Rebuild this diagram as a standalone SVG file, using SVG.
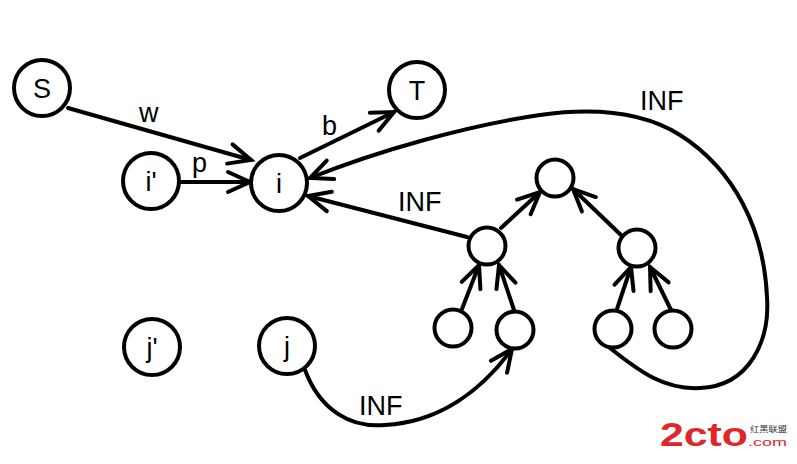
<svg xmlns="http://www.w3.org/2000/svg" width="797" height="464" viewBox="0 0 797 464">
<defs>
<style>
.n{fill:#fff;stroke:#000;stroke-width:4}
.e{fill:none;stroke:#000;stroke-width:4;stroke-linecap:round}
.t{font-family:"Liberation Sans",Arial,sans-serif;font-size:27px;fill:#000;text-anchor:middle}
.l{font-family:"Liberation Sans",Arial,sans-serif;font-size:27px;fill:#000}
</style>
<marker id="a" markerUnits="userSpaceOnUse" markerWidth="40" markerHeight="40" viewBox="-30 -20 40 40" refX="0" refY="0" orient="auto">
<path d="M -22,-10 L 0,0 L -22,10" fill="none" stroke="#000" stroke-width="4" stroke-linecap="round" stroke-linejoin="miter"/>
</marker>
</defs>
<rect width="797" height="464" fill="#fff"/>
<g id="edges">
<path class="e" d="M 68,108 L 251,160" marker-end="url(#a)"/>
<path class="e" d="M 181,182 L 250,182" marker-end="url(#a)"/>
<path class="e" d="M 300,158 L 394,112" marker-end="url(#a)"/>
<path class="e" d="M 610,348 C 640,372 665,390 700,388 C 750,386 770,340 767,297 C 764,230 735,170 680,135 C 640,110 590,108 540,115 C 470,125 380,150 310,178" marker-end="url(#a)"/>
<path class="e" d="M 467,237 L 308,196" marker-end="url(#a)"/>
<path class="e" d="M 501,228 L 540,192" marker-end="url(#a)"/>
<path class="e" d="M 622,236 L 573,189" marker-end="url(#a)"/>
<path class="e" d="M 462,309 L 479,265" marker-end="url(#a)"/>
<path class="e" d="M 514,310 L 499,265" marker-end="url(#a)"/>
<path class="e" d="M 617,309 L 631,267" marker-end="url(#a)"/>
<path class="e" d="M 671,310 L 650,267" marker-end="url(#a)"/>
<path class="e" d="M 305,370 C 320,410 350,428 385,425 C 440,422 482,390 512,349" marker-end="url(#a)"/>
</g>
<g id="labels">
<text class="l" x="139" y="122">w</text>
<text class="l" x="192" y="172">p</text>
<text class="l" x="322" y="135">b</text>
<text class="l" x="398" y="211">INF</text>
<text class="l" x="640" y="110">INF</text>
<text class="l" x="359" y="415">INF</text>
</g>
<g id="S"><circle class="n" cx="42" cy="88" r="28"/><text class="t" x="42" y="98">S</text></g>
<g id="T"><circle class="n" cx="417" cy="90" r="28"/><text class="t" x="417" y="100">T</text></g>
<g id="ip"><circle class="n" cx="151" cy="181" r="28"/><text class="t" x="151" y="191">i'</text></g>
<g id="i"><circle class="n" cx="279" cy="183" r="28"/><text class="t" x="279" y="193">i</text></g>
<g id="jp"><circle class="n" cx="152" cy="347" r="28"/><text class="t" x="152" y="357">j'</text></g>
<g id="j"><circle class="n" cx="287" cy="346" r="28"/><text class="t" x="287" y="356">j</text></g>
<g id="top"><circle class="n" cx="555" cy="178" r="18.5"/></g>
<g id="ml"><circle class="n" cx="487" cy="246" r="18.5"/></g>
<g id="mr"><circle class="n" cx="637" cy="248" r="18.5"/></g>
<g id="ll"><circle class="n" cx="453" cy="328" r="18.5"/></g>
<g id="lr"><circle class="n" cx="515" cy="330" r="18.5"/></g>
<g id="rl"><circle class="n" cx="613" cy="329" r="18.5"/></g>
<g id="rr"><circle class="n" cx="673" cy="329" r="18.5"/></g>
<g id="watermark">
<text x="660" y="446" font-family="'Liberation Sans',Arial,sans-serif" font-size="34" font-weight="bold" fill="#e0262a" textLength="88" lengthAdjust="spacingAndGlyphs">2cto</text>
<text x="750" y="432" font-family="'Noto Sans CJK SC',sans-serif" font-size="8" fill="#333" textLength="37" lengthAdjust="spacingAndGlyphs">红黑联盟</text>
<text x="748" y="446" font-family="'Liberation Sans',Arial,sans-serif" font-size="11" fill="#e0262a" textLength="39" lengthAdjust="spacingAndGlyphs">.com</text>
</g>
</svg>
